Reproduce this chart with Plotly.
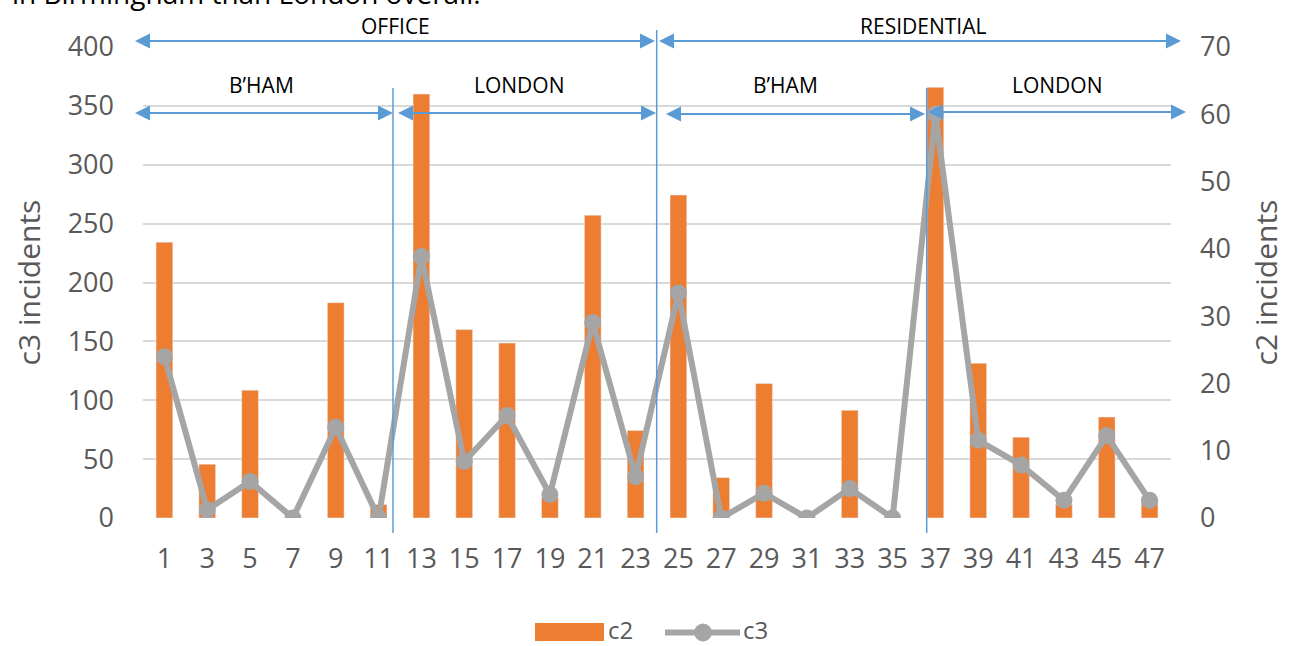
import plotly.graph_objects as go

# ---- data ----
categories = ["1", "3", "5", "7", "9", "11", "13", "15", "17", "19", "21", "23",
              "25", "27", "29", "31", "33", "35", "37", "39", "41", "43", "45", "47"]
c2 = [41, 8, 19, 0, 32, 2, 63, 28, 26, 3, 45, 13,
      48, 6, 20, 0, 16, 0, 64, 23, 12, 2, 15, 3]
c3 = [137, 7, 31, 0, 77, 0, 222, 48, 87, 20, 166, 35,
      191, 0, 21, 0, 25, 0, 343, 66, 45, 15, 70, 15]

group_labels = ["OFFICE", "RESIDENTIAL", "B’HAM", "LONDON", "B’HAM", "LONDON"]
top_note = "in Birmingham than London overall."

# ---- layout geometry (pixels) ----
W, H = 1294, 646
L, R, T, B = 143, 123, 47, 128
PW = W - L - R
PH = H - T - B


def px(xp):
    return (xp - L) / PW


def py(yp):
    return (H - B - yp) / PH


FONT = "Open Sans"
GREY_TXT = "#595959"
BLUE = "#5B9BD5"

fig = go.Figure()
fig.add_trace(go.Bar(x=categories, y=c2, name="c2", marker_color="#ED7D31",
                     yaxis="y", showlegend=False))
fig.add_trace(go.Scatter(x=categories, y=c3, name="c3", mode="lines+markers",
                         line=dict(color="#A5A5A5", width=6),
                         marker=dict(size=17, color="#A5A5A5"),
                         yaxis="y2", showlegend=False))

shapes = []
annotations = []

# arrows: (left tip, right tip, y) in pixels
arrows = [(135, 655, 41), (659, 1181, 41),
          (135, 393, 113), (398, 656, 113),
          (666, 925, 114), (928, 1186, 112)]
label_pos = [(395, 26), (923, 26), (261, 85), (519, 85), (785, 85), (1057, 85)]
AL, AH = 15, 7.5
for (x0, x1, yy) in arrows:
    shapes.append(dict(type="line", xref="paper", yref="paper",
                       x0=px(x0 + AL - 2), x1=px(x1 - AL + 2), y0=py(yy), y1=py(yy),
                       line=dict(color=BLUE, width=2)))
    shapes.append(dict(type="path", xref="paper", yref="paper",
                       path=f"M {px(x0)} {py(yy)} L {px(x0 + AL)} {py(yy - AH)} L {px(x0 + AL)} {py(yy + AH)} Z",
                       fillcolor=BLUE, line=dict(color=BLUE, width=0)))
    shapes.append(dict(type="path", xref="paper", yref="paper",
                       path=f"M {px(x1)} {py(yy)} L {px(x1 - AL)} {py(yy - AH)} L {px(x1 - AL)} {py(yy + AH)} Z",
                       fillcolor=BLUE, line=dict(color=BLUE, width=0)))
for txt, (xx, yy) in zip(group_labels, label_pos):
    annotations.append(dict(text=txt, xref="paper", yref="paper", x=px(xx), y=py(yy),
                            xanchor="center", yanchor="middle", showarrow=False,
                            font=dict(family=FONT, size=21, color="black")))

# vertical separators
for (xx, y0, y1) in [(393, 88, 533), (656.7, 30, 533), (926.7, 88, 533)]:
    shapes.append(dict(type="line", xref="paper", yref="paper",
                       x0=px(xx), x1=px(xx), y0=py(y0), y1=py(y1),
                       line=dict(color=BLUE, width=1.5)))

# custom legend
shapes.append(dict(type="rect", xref="paper", yref="paper",
                   x0=px(535), x1=px(604), y0=py(623), y1=py(641),
                   fillcolor="#ED7D31", line=dict(width=0)))
shapes.append(dict(type="line", xref="paper", yref="paper",
                   x0=px(665), x1=px(740), y0=py(632.5), y1=py(632.5),
                   line=dict(color="#A5A5A5", width=6)))
shapes.append(dict(type="circle", xref="paper", yref="paper",
                   x0=px(694), x1=px(712), y0=py(623.5), y1=py(641.5),
                   fillcolor="#A5A5A5", line=dict(width=0)))
annotations.append(dict(text="c2", xref="paper", yref="paper", x=px(607), y=py(629.5),
                        xanchor="left", yanchor="middle", showarrow=False, borderpad=0,
                        font=dict(family=FONT, size=24, color=GREY_TXT)))
annotations.append(dict(text="c3", xref="paper", yref="paper", x=px(742), y=py(629.5),
                        xanchor="left", yanchor="middle", showarrow=False, borderpad=0,
                        font=dict(family=FONT, size=24, color=GREY_TXT)))

# clipped note at the top
annotations.append(dict(text=top_note, xref="paper", yref="paper", x=px(10), y=py(-7),
                        xanchor="left", yanchor="middle", showarrow=False,
                        font=dict(family=FONT, size=28, color="black")))

tickfont = dict(family=FONT, size=27, color=GREY_TXT)
titlefont = dict(family=FONT, size=30, color=GREY_TXT)

fig.update_layout(
    width=W, height=H,
    margin=dict(l=L, r=R, t=T, b=B, autoexpand=False),
    paper_bgcolor="white", plot_bgcolor="white",
    bargap=0.61,
    showlegend=False,
    xaxis=dict(type="category", range=[-0.5, len(categories) - 0.5],
               showgrid=False, zeroline=False, showline=False, automargin=False,
               tickfont=tickfont, ticks="", ticklabelstandoff=22),
    yaxis=dict(range=[0, 70], dtick=10, side="right", showgrid=False, zeroline=False,
               automargin=False, tickfont=tickfont, ticklabelstandoff=28,
               title=dict(text="c2 incidents", font=titlefont, standoff=26)),
    yaxis2=dict(range=[0, 400], dtick=50, side="left", overlaying="y",
                showgrid=True, gridcolor="#D9D9D9", gridwidth=2, zeroline=False,
                automargin=False, tickfont=tickfont, ticklabelstandoff=28,
                title=dict(text="c3 incidents", font=titlefont, standoff=18)),
    shapes=shapes,
    annotations=annotations,
)

fig.write_html("out.html", config={"displayModeBar": False},
               post_script="document.body.style.margin='0';")
